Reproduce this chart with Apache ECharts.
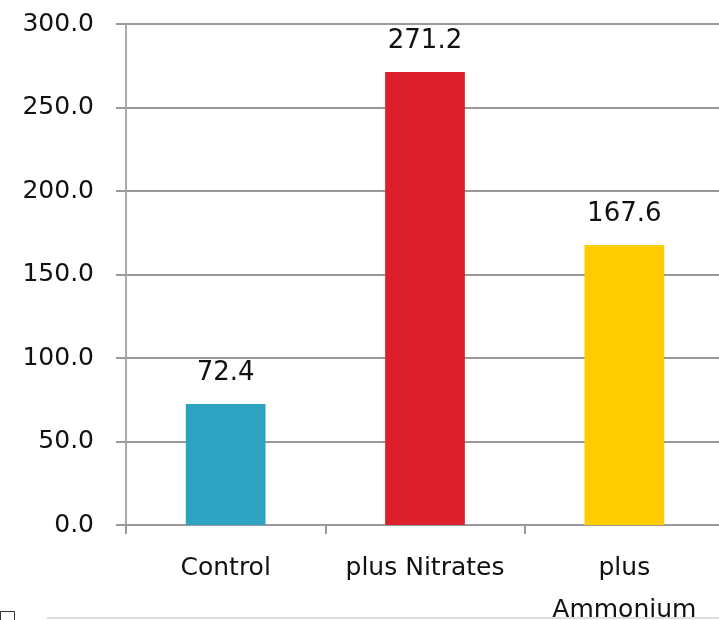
<!DOCTYPE html>
<html>
<head>
<meta charset="utf-8">
<script src="https://cdn.jsdelivr.net/npm/echarts@6/dist/echarts.min.js"></script>
<style>
    html, body { margin: 0; padding: 0; background: #fff; }
    #main { width: 719px; height: 620px; }
</style>
</head>
<body>
<div id="main"></div>
<script>
// values
var categories = ['Control', 'plus Nitrates', 'plus\nAmmonium'];
var values = [72.4, 271.2, 167.6];
var barColors = ['#2da3c1', '#dc1f2a', '#ffcc00'];
var yTicks = [0, 50, 100, 150, 200, 250, 300];

var myChart = echarts.init(document.getElementById('main'));

var seriesData = [];
for (var i = 0; i < values.length; i++) {
    seriesData.push({
        value: values[i],
        itemStyle: {color: barColors[i]}
    });
}

myChart.setOption({
    backgroundColor: '#fff',
    animation: false,
    grid: {
        left: 126,
        right: -5,
        top: 24,
        bottom: 95,
        containLabel: false,
        outerBoundsMode: 'none'
    },
    xAxis: {
        type: 'category',
        data: categories,
        axisLine: {lineStyle: {color: '#999', width: 2}},
        axisTick: {show: true, length: 9, lineStyle: {color: '#999', width: 2}},
        axisLabel: {
            interval: 0,
            color: '#111',
            fontFamily: 'DejaVu Sans',
            fontSize: 25,
            margin: 22,
            lineHeight: 42
        }
    },
    yAxis: {
        type: 'value',
        min: yTicks[0],
        max: yTicks[yTicks.length - 1],
        interval: 50,
        axisLine: {show: true, lineStyle: {color: '#aaa', width: 2}},
        axisTick: {show: true, inside: false, length: 10, lineStyle: {color: '#999', width: 2}},
        splitLine: {show: true, lineStyle: {color: '#999', width: 2}},
        axisLabel: {
            color: '#111',
            fontFamily: 'DejaVu Sans',
            fontSize: 25,
            margin: 32,
            formatter: function (v) {
                return v.toFixed(1);
            }
        }
    },
    series: [{
        type: 'bar',
        barWidth: '40%',
        data: seriesData,
        label: {
            show: true,
            position: 'top',
            distance: 18,
            color: '#111',
            fontFamily: 'DejaVu Sans',
            fontSize: 26,
            formatter: function (p) {
                return p.value.toFixed(1);
            }
        }
    }],
    graphic: [
        {
            type: 'rect',
            shape: {x: 0.5, y: 611.5, width: 14, height: 12},
            style: {fill: '#fff', stroke: '#333', lineWidth: 1}
        },
        {
            type: 'line',
            shape: {x1: 47, y1: 618, x2: 719, y2: 618},
            style: {stroke: '#ddd', lineWidth: 2}
        }
    ]
});
</script>
</body>
</html>
